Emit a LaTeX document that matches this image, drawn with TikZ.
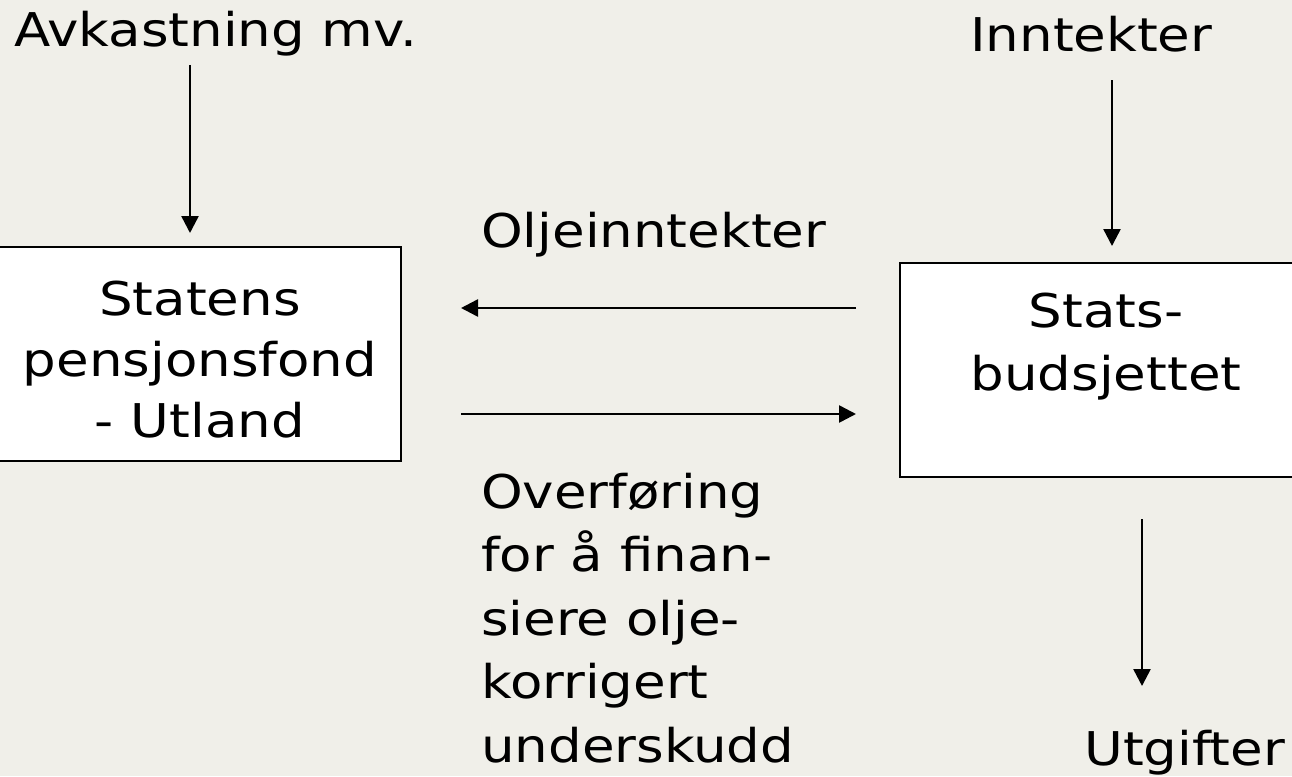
\documentclass[tikz,border=0pt]{standalone}
\usepackage{fontspec}
\setmainfont[FakeStretch=1.14]{DejaVu Sans}
\usetikzlibrary{arrows.meta}
\definecolor{bgcol}{RGB}{240,239,233}
\tikzset{
  flow/.style={line width=2.5pt,-{Triangle[length=17pt,width=17pt]}},
  boxnode/.style={draw=black,line width=2.4pt,fill=white,rectangle,inner sep=0pt},
  txt/.style={inner sep=0pt,font=\fontsize{46.5}{63.5}\selectfont},
}
\begin{document}
\begin{tikzpicture}[x=1pt,y=-1pt]
\fill[bgcol] (0,0) rectangle (1292,776);
\useasboundingbox (0,0) rectangle (1292,776);
% boxes
\node[boxnode,minimum width=402pt,minimum height=214pt] (fund) at (200,354) {};
\node[boxnode,minimum width=412pt,minimum height=214pt] (budget) at (1106,370) {};
% box texts (anchor base = last line's baseline)
\node[txt,align=center,anchor=base,font=\fontsize{46.5}{61}\selectfont] (fundtxt) at (200,437) {Statens\\pensjonsfond\\- Utland};
\node[txt,align=center,anchor=base,font=\fontsize{46.5}{63}\selectfont] (budtxt) at (1106,390) {Stats-\\budsjettet};
% labels
\node[txt,anchor=base west] (avk) at (14,47) {Avkastning mv.};
\node[txt,anchor=base west] (inn) at (970,52) {Inntekter};
\node[txt,anchor=base west] (olje) at (481,247) {Oljeinntekter};
\node[txt,anchor=base west,align=left] (overf) at (481,762) {Overføring\\for å finan-\\siere olje-\\korrigert\\underskudd};
\node[txt,anchor=base west] (utg) at (1084,765) {Utgifter};
% arrow end points
\coordinate (a1s) at (190,65);  \coordinate (a1e) at (190,233);
\coordinate (a2s) at (1112,80); \coordinate (a2e) at (1112,246);
\coordinate (a3s) at (856,308); \coordinate (a3e) at (461,308);
\coordinate (a4s) at (461,414); \coordinate (a4e) at (856,414);
\coordinate (a5s) at (1142,519); \coordinate (a5e) at (1142,686);
\draw[flow] (a1s) -- (a1e);
\draw[flow] (a2s) -- (a2e);
\draw[flow] (a3s) -- (a3e);
\draw[flow] (a4s) -- (a4e);
\draw[flow] (a5s) -- (a5e);
\end{tikzpicture}
\end{document}
